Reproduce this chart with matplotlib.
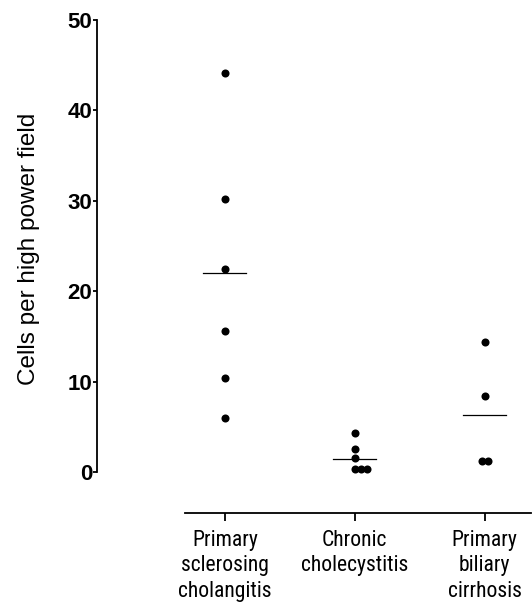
import matplotlib
matplotlib.use("Agg")
import matplotlib.pyplot as plt
from matplotlib import font_manager
import numpy as np

categories = ["Primary\nsclerosing\ncholangitis", "Chronic\ncholecystitis", "Primary\nbiliary\ncirrhosis"]
psc = [44.1, 30.2, 22.4, 15.6, 10.4, 6.0]
chronic = [4.35, 2.5, 1.55, 0.3, 0.3, 0.3]
pbc = [14.4, 8.35, 1.25, 1.25]
group_lines = [22.0, 1.45, 6.3]
y_ticks = [0, 10, 20, 30, 40, 50]
y_label = "Cells per high power field"

groups = [psc, chronic, pbc]

names = {f.name for f in font_manager.fontManager.ttflist}
cond_font = "Liberation Sans"
for cand in ["Liberation Sans Narrow", "Arial Narrow", "Nimbus Sans Narrow",
             "Roboto Condensed", "Archivo Narrow", "PT Sans Narrow"]:
    if cand in names:
        cond_font = cand
        break

W, H = 532, 608
fig = plt.figure(figsize=(W / 100, H / 100), dpi=100)
ax = fig.add_axes([97 / W, (H - 513) / H, 1 - 97 / W, (513 - 20) / H])
ax.set_xlim(-0.985, 2.365)
ax.set_ylim(-4.55, 50)

spacing = 0.046
for i, vals in enumerate(groups):
    vals = np.asarray(vals)
    xs = np.zeros(len(vals))
    for v in np.unique(vals):
        idx = np.where(vals == v)[0]
        n = len(idx)
        shift = 0.5 if n % 2 == 0 else 0.0
        for k, j in enumerate(idx):
            xs[j] = i + (k - shift) * spacing
    ax.plot(xs, vals, 'o', color='black', markersize=5.8, markeredgewidth=0, zorder=3)
    ax.plot([i - 0.165, i + 0.165], [group_lines[i]] * 2, color='black', lw=0.9, zorder=2)

for s in ['top', 'right']:
    ax.spines[s].set_visible(False)
ax.spines['left'].set_bounds(0, 50)
ax.spines['bottom'].set_bounds(-0.31, 2.36)
ax.spines['left'].set_linewidth(1.3)
ax.spines['bottom'].set_linewidth(1.3)

ax.set_yticks(y_ticks)
ax.set_yticklabels([str(t) for t in y_ticks], fontfamily="Liberation Sans",
                   fontweight='bold', fontsize=16)
ax.tick_params(axis='y', direction='out', length=3, width=1.3, pad=0.5)
ax.set_xticks(range(len(categories)))
labels = ax.set_xticklabels(categories, fontfamily=cond_font, fontsize=18, linespacing=1.3)
ax.tick_params(axis='x', direction='out', length=6, width=1.3, pad=6)

# fit the condensed label size so the middle label has the reference width
fig.canvas.draw()
r = fig.canvas.get_renderer()
wpx = labels[1].get_window_extent(r).width
size = 18 * 108 / wpx
size = min(max(size, 13), 20)
for lb in labels:
    lb.set_fontsize(size)

fig.text(29 / W, (H - 249) / H, y_label, rotation=90, ha='center', va='center',
         fontfamily="Liberation Sans", fontsize=17.5)

fig.savefig("out.png", dpi=100)
